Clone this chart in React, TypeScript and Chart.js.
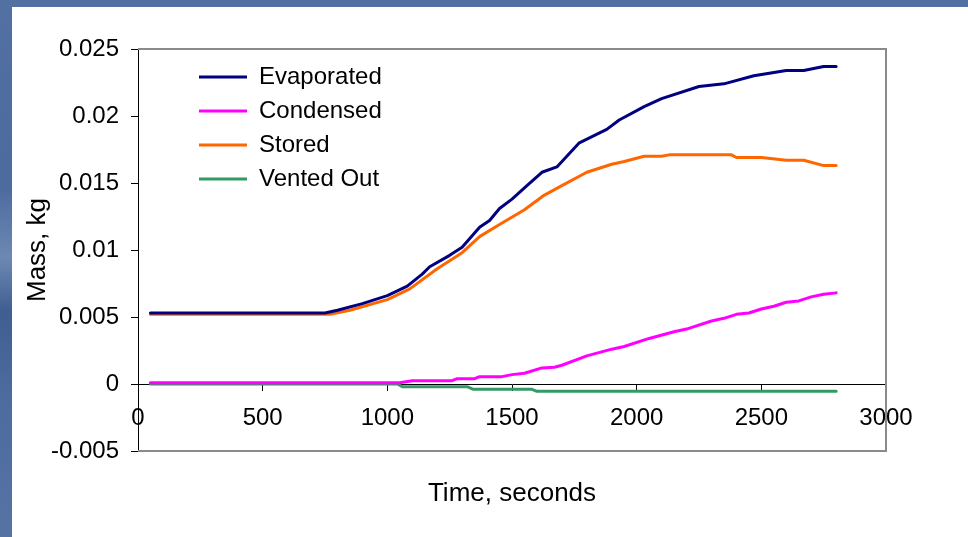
import React, { useEffect, useRef } from "react";
import { Chart, registerables } from "chart.js";

Chart.register(...registerables);

// ---- data ----
const evapT = [50, 750, 800, 900, 1000, 1080, 1140, 1170, 1250, 1300, 1370, 1410, 1450, 1500, 1560, 1620, 1680, 1770, 1880, 1930, 2030, 2100, 2250, 2350, 2470, 2600, 2670, 2750, 2800];
const evapV = [0.0053, 0.0053, 0.0055, 0.006, 0.0066, 0.0073, 0.0082, 0.00875, 0.0096, 0.0102, 0.0117, 0.0122, 0.0131, 0.0138, 0.0148, 0.0158, 0.0162, 0.018, 0.019, 0.0197, 0.0207, 0.0213, 0.0222, 0.0224, 0.023, 0.0234, 0.0234, 0.0237, 0.0237];

const condT = [50, 1050, 1100, 1260, 1280, 1350, 1370, 1460, 1500, 1550, 1620, 1670, 1700, 1800, 1900, 1950, 2050, 2150, 2200, 2300, 2350, 2400, 2450, 2500, 2550, 2600, 2650, 2700, 2750, 2800];
const condV = [0.0001, 0.0001, 0.00025, 0.00025, 0.0004, 0.0004, 0.00055, 0.00055, 0.0007, 0.0008, 0.0012, 0.00125, 0.0014, 0.0021, 0.0026, 0.0028, 0.0034, 0.0039, 0.0041, 0.0047, 0.0049, 0.0052, 0.0053, 0.0056, 0.0058, 0.0061, 0.0062, 0.0065, 0.0067, 0.0068];

const storT = [50, 770, 850, 1000, 1090, 1200, 1300, 1370, 1450, 1550, 1630, 1700, 1800, 1900, 1950, 2030, 2100, 2130, 2380, 2400, 2500, 2600, 2670, 2750, 2800];
const storV = [0.0052, 0.0052, 0.0055, 0.0063, 0.0071, 0.0086, 0.0098, 0.011, 0.0119, 0.013, 0.0141, 0.0148, 0.0158, 0.0164, 0.0166, 0.017, 0.017, 0.0171, 0.0171, 0.0169, 0.0169, 0.0167, 0.0167, 0.0163, 0.0163];

const ventT = [50, 1040, 1060, 1320, 1345, 1580, 1600, 2800];
const ventV = [0, 0, -0.0002, -0.0002, -0.0004, -0.0004, -0.00055, -0.00055];

const seriesNames = ["Evaporated", "Condensed", "Stored", "Vented Out"];
const seriesColors = ["#000080", "#FF00FF", "#FF6600", "#339966"];

const xTickValues = [0, 500, 1000, 1500, 2000, 2500, 3000];
const xTickLabels = ["0", "500", "1000", "1500", "2000", "2500", "3000"];
const yTickValues = [-0.005, 0, 0.005, 0.01, 0.015, 0.02, 0.025];
const yTickLabels = ["-0.005", "0", "0.005", "0.01", "0.015", "0.02", "0.025"];

const xTitle = "Time, seconds";
const yTitle = "Mass, kg";

const FONT = "'Liberation Sans', Arial, sans-serif";

const toPts = (t: number[], v: number[]) => t.map((x, i) => ({ x, y: v[i] }));

const framePlugin = {
  id: "frame",
  beforeDatasetsDraw(chart: any) {
    const { ctx, chartArea } = chart;
    const { left, top, right, bottom } = chartArea;
    ctx.save();
    ctx.strokeStyle = "#8a8a8a";
    ctx.lineWidth = 2;
    ctx.beginPath();
    ctx.moveTo(left, top);
    ctx.lineTo(right, top);
    ctx.lineTo(right, bottom);
    ctx.lineTo(left, bottom);
    ctx.stroke();
    ctx.restore();
  },
};

const legendShift = {
  id: "legendShift",
  afterLayout(chart: any) {
    const lg = chart.legend;
    if (!lg) return;
    const dx = 51;
    const dy = chart.chartArea.top + 6 - lg.top;
    lg.left += dx;
    lg.right += dx;
    lg.top += dy;
    lg.bottom += dy;
  },
};

export default function App() {
  const ref = useRef<HTMLCanvasElement | null>(null);

  useEffect(() => {
    document.body.style.margin = "0";
    const canvas = ref.current;
    if (!canvas) return;
    const series = [
      toPts(evapT, evapV),
      toPts(condT, condV),
      toPts(storT, storV),
      toPts(ventT, ventV),
    ];
    const chart = new Chart(canvas, {
      type: "line",
      data: {
        datasets: series.map((d, i) => ({
          label: seriesNames[i],
          data: d,
          borderColor: seriesColors[i],
          backgroundColor: seriesColors[i],
          borderWidth: 3,
          borderCapStyle: "round",
          borderJoinStyle: "round",
          pointRadius: 0,
          tension: 0,
          fill: false,
          xAxisID: "x",
          yAxisID: "y",
        })),
      },
      options: {
        animation: false,
        responsive: false,
        devicePixelRatio: 1,
        layout: { padding: { left: 0, top: 49, right: 82, bottom: 28 } },
        font: { family: FONT },
        plugins: {
          tooltip: { enabled: false },
          legend: {
            position: "chartArea",
            align: "start",
            labels: {
              usePointStyle: true,
              pointStyle: "line",
              pointStyleWidth: 48,
              boxHeight: 24,
              padding: 10,
              color: "#000",
              font: { family: FONT, size: 24 },
            },
          },
        },
        scales: {
          x: {
            type: "linear",
            position: "bottom",
            min: 0,
            max: 3000,
            ticks: { display: false },
            grid: { display: false, drawTicks: false },
            border: { display: false },
            title: {
              display: true,
              text: xTitle,
              color: "#000",
              font: { family: FONT, size: 26 },
              padding: { top: 28, bottom: 0 },
            },
            afterFit: (s: any) => {
              s.height = 58;
            },
          },
          x2: {
            type: "linear",
            position: { y: 0 },
            min: 0,
            max: 3000,
            afterBuildTicks: (s: any) => {
              s.ticks = xTickValues.map((v) => ({ value: v }));
            },
            ticks: {
              color: "#000",
              font: { family: FONT, size: 24 },
              padding: 14,
              maxRotation: 0,
              autoSkip: false,
              callback: (_v: any, i: number) => xTickLabels[i],
            },
            grid: { drawOnChartArea: false, drawTicks: true, tickLength: 6, color: "#000", lineWidth: 1 },
            border: { display: true, color: "#000", width: 1 },
            afterFit: (s: any) => {
              s.height = 0;
            },
          },
          y: {
            type: "linear",
            position: "left",
            min: -0.005,
            max: 0.025,
            afterBuildTicks: (s: any) => {
              s.ticks = yTickValues.map((v) => ({ value: v }));
            },
            ticks: {
              color: "#000",
              font: { family: FONT, size: 24 },
              padding: 12,
              callback: (_v: any, i: number) => yTickLabels[i],
            },
            grid: { drawOnChartArea: false, drawTicks: true, tickLength: 7, color: "#000", lineWidth: 1 },
            border: { display: true, color: "#000", width: 1 },
            title: {
              display: true,
              text: yTitle,
              color: "#000",
              font: { family: FONT, size: 26 },
              padding: { top: 22, bottom: 0 },
            },
            afterFit: (s: any) => {
              s.width = 138;
            },
          },
        },
      } as any,
      plugins: [framePlugin, legendShift],
    });
    return () => chart.destroy();
  }, []);

  return (
    <div
      style={{
        position: "relative",
        width: 968,
        height: 537,
        overflow: "hidden",
        background:
          "linear-gradient(to bottom, #5271a2 0%, #4c6b9e 35%, #6d88b2 48%, #3f5e91 58%, #4d6c9f 75%, #5574a4 100%)",
      }}
    >
      <div
        style={{
          position: "absolute",
          left: 12,
          top: 7,
          width: 956,
          height: 530,
          background: "#ffffff",
        }}
      />
      <canvas
        ref={ref}
        width={968}
        height={537}
        style={{ position: "absolute", left: 0, top: 0, width: 968, height: 537 }}
      />
    </div>
  );
}
